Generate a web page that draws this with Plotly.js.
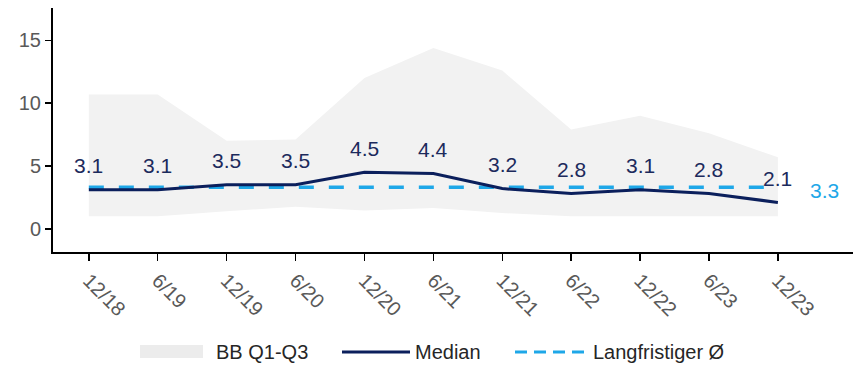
<!DOCTYPE html>
<html>
<head>
<meta charset="utf-8">
<script src="https://cdn.plot.ly/plotly-3.0.1.min.js"></script>
<style>html,body{margin:0;padding:0;background:#fff;}#chart{width:856px;height:365px;}</style>
</head>
<body>
<div id="chart"></div>
<script>
const categories = ["12/18","6/19","12/19","6/20","12/20","6/21","12/21","6/22","12/22","6/23","12/23"];
const median = [3.1, 3.1, 3.5, 3.5, 4.5, 4.4, 3.2, 2.8, 3.1, 2.8, 2.1];
const q1 = [1.0, 1.0, 1.4, 1.75, 1.45, 1.65, 1.25, 1.0, 1.0, 1.0, 1.0];
const q3 = [10.7, 10.7, 7.0, 7.1, 12.0, 14.4, 12.6, 7.9, 9.0, 7.6, 5.7];
const longRunAvg = 3.3;
const longRunLabel = "3.3";
const legendNames = ["BB Q1-Q3", "Median", "Langfristiger Ø"];

const idx = categories.map((_, i) => i);
const avgLine = categories.map(() => longRunAvg);

const navy = "#0b1f5c";
const lightBlue = "#1ea7e8";
const bandColor = "#f2f2f2";
const font = "Liberation Sans, Arial, sans-serif";

// plot area geometry (pixels)
const W = 856, H = 365, mL = 53, mR = 3, mT = 8, mB = 113;
const pw = W - mL - mR, ph = H - mT - mB;
const px2x = p => (p - mL) / pw;
const py2y = p => (H - mB - p) / ph;

const traces = [
  {x: idx, y: q1, mode: "lines", line: {width: 0, color: bandColor}, showlegend: false, hoverinfo: "skip"},
  {x: idx, y: q3, mode: "lines", fill: "tonexty", fillcolor: bandColor, line: {width: 0, color: bandColor}, showlegend: false, name: legendNames[0]},
  {x: idx, y: avgLine, mode: "lines", line: {color: lightBlue, width: 3.5, dash: "15px,15px"}, showlegend: false, name: legendNames[2]},
  {x: idx, y: median, mode: "lines", line: {color: navy, width: 3}, showlegend: false, name: legendNames[1]}
];

const annotations = median.map((v, i) => ({
  x: i, y: v, text: v.toFixed(1), showarrow: false, yshift: 24,
  font: {family: font, size: 21, color: "#1c2a5c"}
}));
annotations.push({
  x: idx[idx.length - 1], y: longRunAvg, text: longRunLabel, showarrow: false,
  xshift: 47, yshift: -3, font: {family: font, size: 21, color: lightBlue}
});

// custom legend (wide swatches as in the reference)
const legY = 352;
const legendItems = [
  {sx0: 140, sx1: 203, tx: 214, kind: "band"},
  {sx0: 342, sx1: 410, tx: 413, kind: "line"},
  {sx0: 515, sx1: 586, tx: 591, kind: "dash"}
];
const shapes = [];
legendItems.forEach((it, k) => {
  if (it.kind === "band") {
    shapes.push({type: "rect", xref: "paper", yref: "paper",
      x0: px2x(it.sx0), x1: px2x(it.sx1), y0: py2y(legY + 6), y1: py2y(legY - 7),
      fillcolor: "#ececec", line: {width: 0}});
  } else {
    shapes.push({type: "line", xref: "paper", yref: "paper",
      x0: px2x(it.sx0), x1: px2x(it.sx1), y0: py2y(legY), y1: py2y(legY),
      line: {color: it.kind === "line" ? navy : lightBlue, width: 3, dash: it.kind === "dash" ? "12px,7px" : "solid"}});
  }
  annotations.push({xref: "paper", yref: "paper", x: px2x(it.tx), y: py2y(legY),
    xanchor: "left", yanchor: "middle", text: legendNames[k], showarrow: false,
    font: {family: font, size: 20, color: "#262626"}});
});

const layout = {
  width: W, height: H,
  margin: {l: mL, r: mR, t: mT, b: mB},
  paper_bgcolor: "#fff", plot_bgcolor: "#fff",
  font: {family: font, color: "#595959"},
  xaxis: {
    range: [-0.52, 11.09], tickvals: idx, ticktext: categories, tickangle: 45,
    showgrid: false, zeroline: false, showline: true, linecolor: "#000", linewidth: 2,
    ticks: "outside", ticklen: 7, tickcolor: "#000", tickwidth: 1.5, automargin: false,
    tickfont: {family: font, size: 20, color: "#595959"}
  },
  yaxis: {
    range: [-1.85, 17.58], tickvals: [0, 5, 10, 15],
    showgrid: false, zeroline: false, showline: true, linecolor: "#000", linewidth: 2,
    ticks: "outside", ticklen: 6, tickcolor: "#000", tickwidth: 1.5, automargin: false,
    tickfont: {family: font, size: 20, color: "#595959"}
  },
  showlegend: false,
  shapes: shapes,
  annotations: annotations
};

Plotly.newPlot("chart", traces, layout, {displayModeBar: false, staticPlot: true});
</script>
</body>
</html>
